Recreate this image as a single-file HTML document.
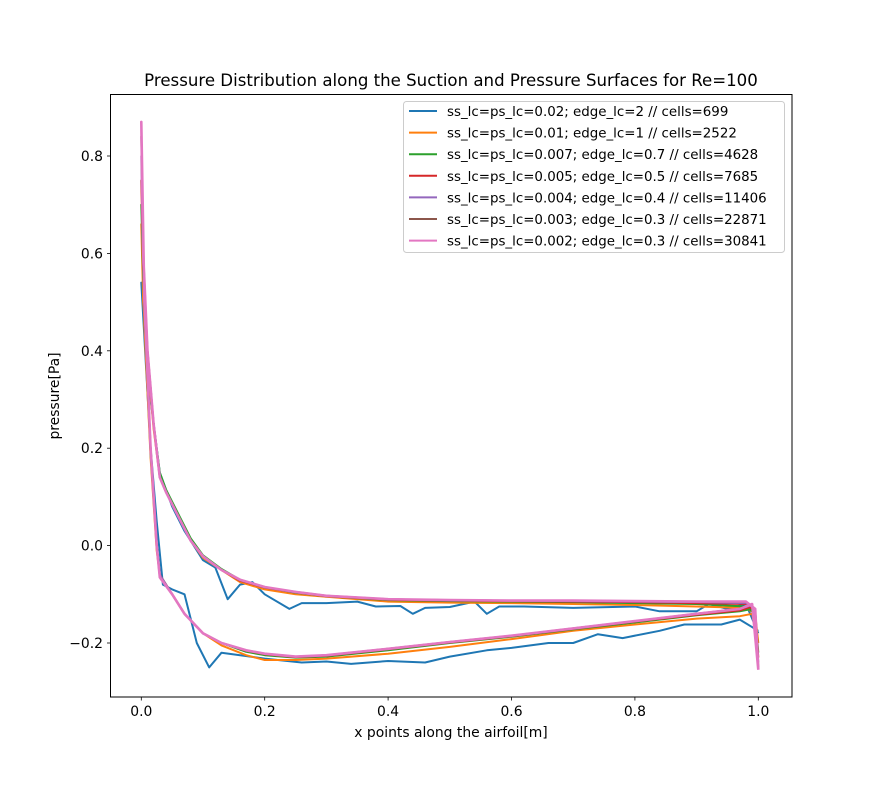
<!DOCTYPE html>
<html><head><meta charset="utf-8"><style>
body{margin:0;background:#fff}
svg text{font-family:"DejaVu Sans","Liberation Sans",sans-serif;fill:#000}
</style></head><body>
<svg id="chart" width="880" height="783" viewBox="0 0 880 783">
<rect width="880" height="783" fill="#fff"/>
<text x="451" y="86" text-anchor="middle" font-size="16.6">Pressure Distribution along the Suction and Pressure Surfaces for Re=100</text>
<g id="plot"></g>
<rect x="110.5" y="94.5" width="681.5" height="602.5" fill="none" stroke="#000" stroke-width="1"/>
<g id="axes"></g>
<text x="451" y="737" text-anchor="middle" font-size="13.9">x points along the airfoil[m]</text>
<text transform="translate(59,396) rotate(-90)" text-anchor="middle" font-size="13.9">pressure[Pa]</text>
<g id="legend"></g>
</svg>
<script>
const xTicks=[0.0,0.2,0.4,0.6,0.8,1.0];
const xTickLabels=["0.0","0.2","0.4","0.6","0.8","1.0"];
const yTicks=[0.8,0.6,0.4,0.2,0.0,-0.2];
const yTickLabels=["0.8","0.6","0.4","0.2","0.0","\u22120.2"];
const seriesNames=["ss_lc=ps_lc=0.02; edge_lc=2 // cells=699","ss_lc=ps_lc=0.01; edge_lc=1 // cells=2522","ss_lc=ps_lc=0.007; edge_lc=0.7 // cells=4628","ss_lc=ps_lc=0.005; edge_lc=0.5 // cells=7685","ss_lc=ps_lc=0.004; edge_lc=0.4 // cells=11406","ss_lc=ps_lc=0.003; edge_lc=0.3 // cells=22871","ss_lc=ps_lc=0.002; edge_lc=0.3 // cells=30841"];
const colors=["#1f77b4","#ff7f0e","#2ca02c","#d62728","#9467bd","#8c564b","#e377c2"];
// coarse mesh (blue)
const coarseUpperX=[0,0.01,0.03,0.05,0.07,0.1,0.12,0.14,0.16,0.18,0.2,0.24,0.26,0.3,0.35,0.38,0.42,0.44,0.46,0.5,0.54,0.56,0.58,0.62,0.7,0.8,0.84,0.9,0.92,0.95,0.98,1.0];
const coarseUpperP=[0.54,0.35,0.15,0.08,0.03,-0.03,-0.045,-0.11,-0.08,-0.075,-0.1,-0.13,-0.118,-0.118,-0.115,-0.125,-0.124,-0.14,-0.128,-0.126,-0.115,-0.14,-0.125,-0.125,-0.128,-0.125,-0.135,-0.135,-0.12,-0.13,-0.12,-0.18];
const coarseLowerX=[0,0.015,0.025,0.035,0.05,0.07,0.09,0.11,0.13,0.2,0.26,0.3,0.34,0.4,0.46,0.5,0.56,0.6,0.66,0.7,0.74,0.78,0.84,0.88,0.94,0.97,1.0];
const coarseLowerP=[0.54,0.2,0.05,-0.08,-0.09,-0.1,-0.2,-0.25,-0.22,-0.232,-0.24,-0.238,-0.243,-0.237,-0.24,-0.228,-0.215,-0.21,-0.2,-0.2,-0.182,-0.19,-0.175,-0.162,-0.162,-0.152,-0.175];
// finer meshes share x grids
const upperX=[0,0.003,0.01,0.02,0.03,0.04,0.06,0.08,0.1,0.13,0.16,0.2,0.25,0.3,0.4,0.5,0.6,0.7,0.8,0.9,0.98,0.995,1.0];
const lowerX=[0,0.005,0.015,0.025,0.03,0.05,0.07,0.1,0.13,0.17,0.2,0.25,0.3,0.4,0.5,0.6,0.7,0.8,0.9,0.97,0.99,1.0];
const upperP=[
 [0.66,0.5,0.38,0.24,0.14,0.11,0.06,0.01,-0.025,-0.05,-0.075,-0.09,-0.1,-0.105,-0.115,-0.117,-0.118,-0.12,-0.122,-0.125,-0.128,-0.14,-0.2],
 [0.7,0.55,0.39,0.25,0.15,0.115,0.065,0.015,-0.02,-0.048,-0.07,-0.085,-0.097,-0.104,-0.112,-0.114,-0.115,-0.116,-0.118,-0.12,-0.125,-0.14,-0.22],
 [0.75,0.57,0.4,0.25,0.14,0.11,0.06,0.01,-0.022,-0.05,-0.072,-0.086,-0.096,-0.104,-0.111,-0.113,-0.114,-0.115,-0.116,-0.118,-0.12,-0.135,-0.23],
 [0.8,0.58,0.4,0.25,0.14,0.11,0.06,0.01,-0.022,-0.05,-0.071,-0.086,-0.096,-0.103,-0.11,-0.112,-0.113,-0.114,-0.115,-0.116,-0.118,-0.13,-0.24],
 [0.84,0.6,0.4,0.25,0.14,0.11,0.06,0.01,-0.022,-0.05,-0.071,-0.086,-0.095,-0.103,-0.11,-0.112,-0.113,-0.113,-0.114,-0.115,-0.116,-0.13,-0.25],
 [0.87,0.6,0.4,0.25,0.14,0.11,0.06,0.01,-0.022,-0.05,-0.07,-0.085,-0.095,-0.103,-0.11,-0.112,-0.113,-0.113,-0.114,-0.115,-0.115,-0.13,-0.255]];
const lowerP=[
 [0.66,0.45,0.18,-0.01,-0.06,-0.1,-0.14,-0.18,-0.205,-0.225,-0.235,-0.235,-0.232,-0.222,-0.208,-0.192,-0.175,-0.162,-0.15,-0.145,-0.14,-0.2],
 [0.7,0.48,0.19,0.0,-0.06,-0.1,-0.14,-0.18,-0.2,-0.218,-0.225,-0.23,-0.228,-0.215,-0.2,-0.187,-0.172,-0.158,-0.143,-0.135,-0.13,-0.22],
 [0.75,0.49,0.2,0.0,-0.06,-0.1,-0.14,-0.18,-0.2,-0.216,-0.223,-0.229,-0.226,-0.213,-0.199,-0.186,-0.171,-0.156,-0.142,-0.133,-0.125,-0.23],
 [0.8,0.5,0.2,0.0,-0.06,-0.1,-0.14,-0.18,-0.2,-0.215,-0.222,-0.228,-0.225,-0.212,-0.198,-0.185,-0.17,-0.155,-0.14,-0.13,-0.122,-0.24],
 [0.84,0.5,0.2,0.0,-0.065,-0.1,-0.14,-0.18,-0.2,-0.215,-0.222,-0.228,-0.225,-0.212,-0.198,-0.185,-0.17,-0.155,-0.14,-0.13,-0.12,-0.25],
 [0.87,0.5,0.2,0.0,-0.065,-0.1,-0.14,-0.18,-0.2,-0.215,-0.222,-0.228,-0.225,-0.212,-0.198,-0.185,-0.17,-0.155,-0.14,-0.13,-0.12,-0.255]];
const NS="http://www.w3.org/2000/svg";
const sx=v=>141.3+v*617;
const sy=v=>545.6-v*487;
function mk(tag,attrs,parent){const e=document.createElementNS(NS,tag);for(const k in attrs)e.setAttribute(k,attrs[k]);parent.appendChild(e);return e;}
const plot=document.getElementById('plot'),axes=document.getElementById('axes'),legend=document.getElementById('legend');
function pts(xs,ps){return xs.map((x,i)=>sx(x).toFixed(1)+','+sy(ps[i]).toFixed(1)).join(' ');}
function drawSeries(i,ux,up,lx,lp,w){
  const g=mk('g',{},plot);
  
  
  const revL=lx.slice().reverse(),revP=lp.slice().reverse();
  const pl=mk('polyline',{points:pts(revL,revP)+' '+pts(ux,up),fill:'none',stroke:colors[i],'stroke-width':w,'stroke-linejoin':'round'},g);
  
  
}
drawSeries(0,coarseUpperX,coarseUpperP,coarseLowerX,coarseLowerP,2);
for(let k=0;k<6;k++)drawSeries(k+1,upperX,upperP[k],lowerX,lowerP[k],k===5?2.6:2);
xTicks.forEach((t,i)=>{
  const x=sx(t);
  const l=mk('line',{x1:x,x2:x,y1:697,y2:700.5,stroke:'#000','stroke-width':0.8},axes);
  
  
  const tx=mk('text',{x:x,y:716,'text-anchor':'middle','font-size':13.9},axes);
  tx.textContent=xTickLabels[i];
  
  
});
yTicks.forEach((t,i)=>{
  const y=sy(t);
  const l=mk('line',{x1:107,x2:110.5,y1:y,y2:y,stroke:'#000','stroke-width':0.8},axes);
  
  
  const tx=mk('text',{x:103,y:y+5,'text-anchor':'end','font-size':13.9},axes);
  tx.textContent=yTickLabels[i];
  
  
});
const box=mk('rect',{x:403.5,y:101.5,width:381,height:151,rx:3,fill:'#fff','fill-opacity':0.8,stroke:'#ccc'},legend);


seriesNames.forEach((n,i)=>{
  const y=111+i*21.6;
  const g=mk('g',{},legend);
  
  
  mk('line',{x1:409,x2:437,y1:y,y2:y,stroke:colors[i],'stroke-width':2},g);
  const t=mk('text',{x:447,y:y+5,'font-size':13.4},g);
  t.textContent=n;
});
</script>
</body></html>
